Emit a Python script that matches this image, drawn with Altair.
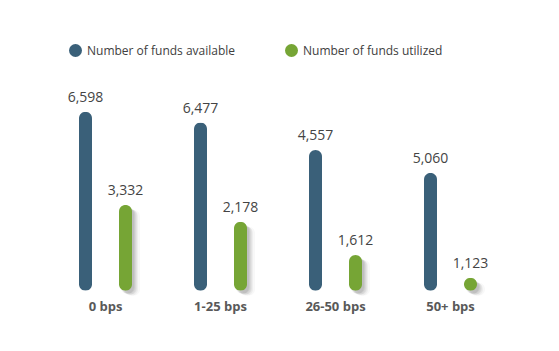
import altair as alt
import pandas as pd

# ---- data ----
categories = ["0 bps", "1-25 bps", "26-50 bps", "50+ bps"]
series = ["Number of funds available", "Number of funds utilized"]
available = [6598, 6477, 4557, 5060]
utilized = [3332, 2178, 1612, 1123]
# drawn bar length as shown in the picture (% of the tallest bar)
available_len = [100, 93.9, 78.6, 65.8]
utilized_len = [47.9, 38.5, 19.9, 7.3]

colors = ["#3A6079", "#76A535"]
FONT = "Open Sans"

rows = []
for i, c in enumerate(categories):
    rows.append({"category": c, "series": series[0], "value": available[i], "len": available_len[i]})
    rows.append({"category": c, "series": series[1], "value": utilized[i], "len": utilized_len[i]})
df = pd.DataFrame(rows)

X_RANGE = [48, 508]
Y_RANGE = [290.7, 111.7]


def x_enc():
    return alt.X("category:N", sort=categories, axis=None,
                 scale=alt.Scale(type="band", domain=categories, range=X_RANGE,
                                 paddingInner=0, paddingOuter=0))


def xo_enc(shift=0):
    return alt.XOffset("series:N", sort=series,
                       scale=alt.Scale(type="band", domain=series, range=[shift, 115 + shift],
                                       paddingInner=0, paddingOuter=0.4375))


def y_enc(shift=0):
    return alt.Y("len:Q", axis=None,
                 scale=alt.Scale(domain=[0, 100], range=[Y_RANGE[0] + shift, Y_RANGE[1] + shift]))


base = alt.Chart(df)

# soft drop shadow to the lower right of the green bars
shadows = []
for dxo, dyo, op in [(2, 3, 0.09), (3, 3, 0.08), (4, 4, 0.07), (5, 4, 0.06), (6, 5, 0.05), (8, 5, 0.04)]:
    shadows.append(
        base.transform_filter(alt.datum.series == series[1])
        .mark_bar(size=13, cornerRadius=6.5, color="#444444", opacity=op)
        .encode(x=x_enc(), xOffset=xo_enc(dxo), y=y_enc(dyo))
    )

bars = base.mark_bar(size=13, cornerRadius=6.5).encode(
    x=x_enc(), xOffset=xo_enc(), y=y_enc(),
    color=alt.Color("series:N", sort=series,
                    scale=alt.Scale(domain=series, range=colors),
                    legend=alt.Legend(orient="none", legendX=69, legendY=44,
                                      direction="horizontal", title=None,
                                      symbolType="circle", symbolSize=169,
                                      symbolStrokeWidth=0, symbolOpacity=1,
                                      labelFont=FONT, labelFontSize=12,
                                      labelColor="#404040", labelOffset=5,
                                      labelLimit=300, columnPadding=49)),
)

values = base.mark_text(font=FONT, fontSize=14, color="#444444", dy=-10,
                        baseline="alphabetic").encode(
    x=x_enc(), xOffset=xo_enc(), y=y_enc(),
    text=alt.Text("value:Q", format=","),
)

cats = alt.Chart(pd.DataFrame({"category": categories})).mark_text(
    font=FONT, fontSize=13, fontWeight="bold", color="#595959", dy=20,
    baseline="alphabetic").encode(
    x=x_enc(), y=alt.Y(datum=0, axis=None, scale=alt.Scale(domain=[0, 100], range=Y_RANGE)),
    text="category:N",
)

chart = alt.layer(*shadows, bars, values, cats).resolve_scale(
    x="independent", xOffset="independent", y="independent"
).properties(
    width=556, height=348, padding=0, background="white",
    autosize=alt.AutoSizeParams(type="none"),
).configure_view(stroke=None)

chart.save("out.html", embed_options={"renderer": "svg", "actions": False})
